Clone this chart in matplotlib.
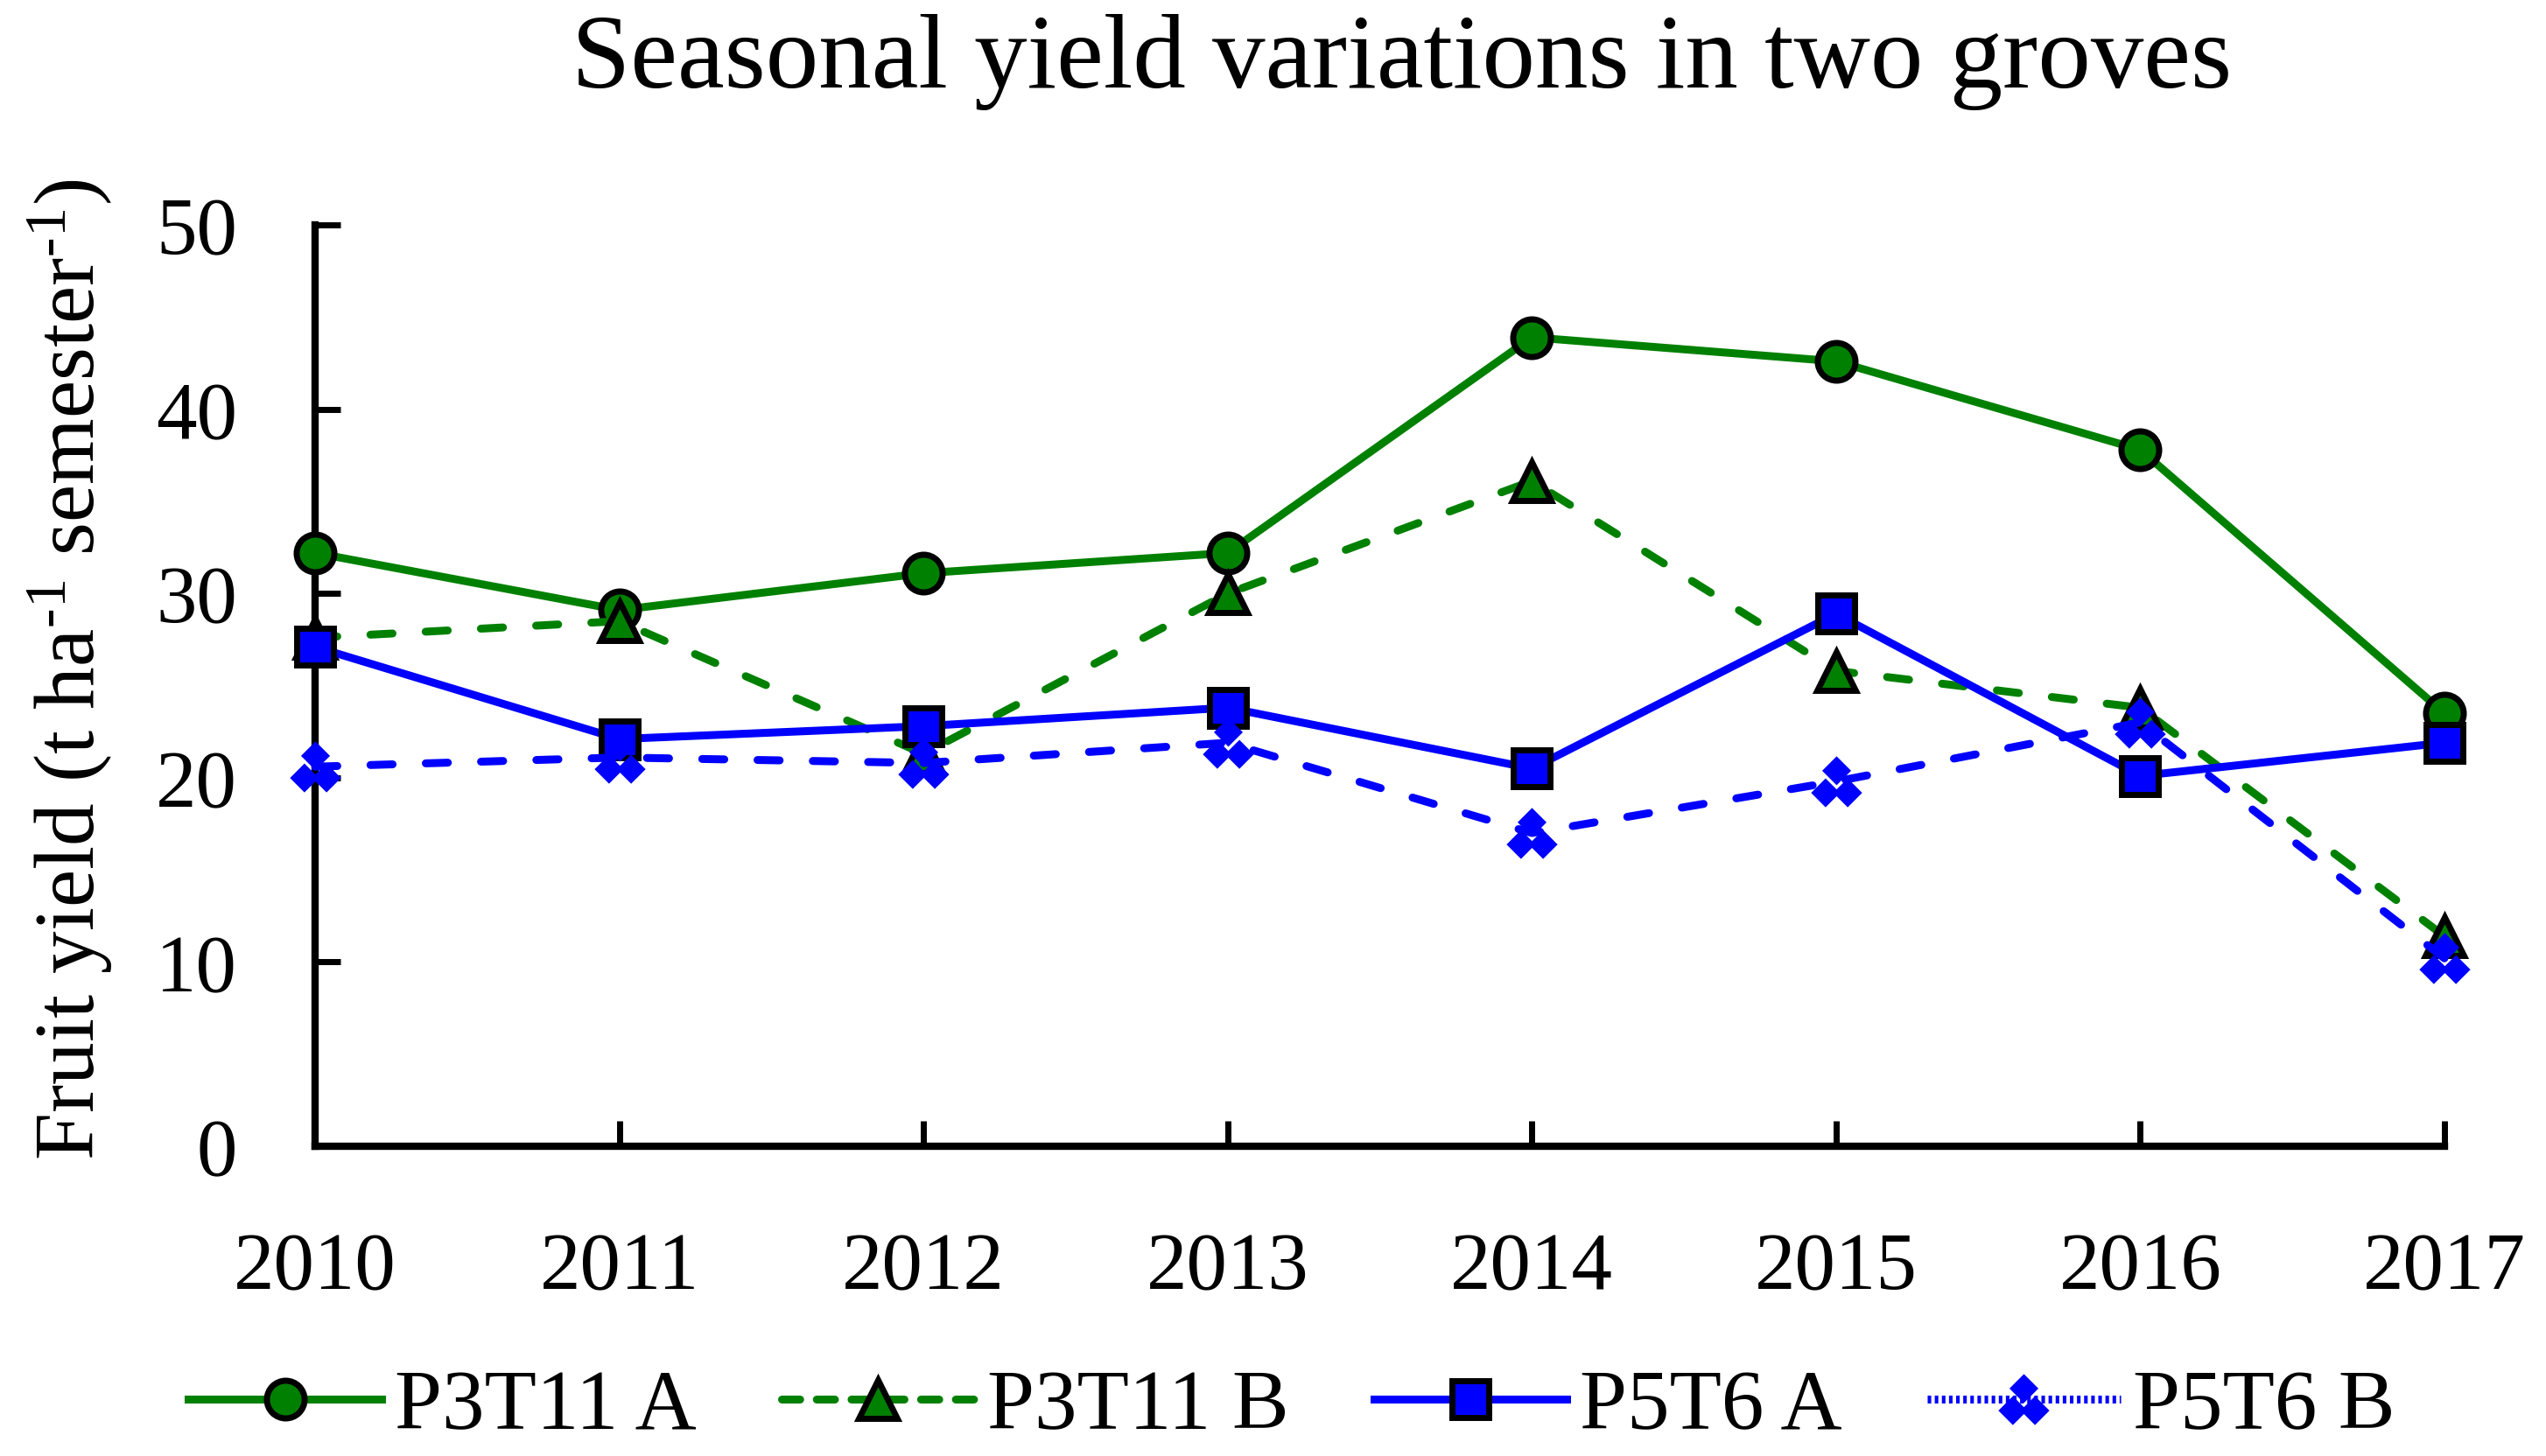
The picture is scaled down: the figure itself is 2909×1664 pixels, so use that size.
import matplotlib
matplotlib.use("Agg")
import matplotlib.pyplot as plt
from matplotlib.lines import Line2D
from matplotlib.path import Path

years = [2010, 2011, 2012, 2013, 2014, 2015, 2016, 2017]
p3t11_a = [32.2, 29.1, 31.1, 32.2, 43.9, 42.6, 37.8, 23.5]
p3t11_b = [27.6, 28.5, 21.3, 30.0, 36.1, 25.8, 23.8, 11.4]
p5t6_a = [27.1, 22.1, 22.8, 23.8, 20.5, 28.9, 20.1, 21.9]
p5t6_b = [20.6, 21.1, 20.8, 21.9, 17.0, 19.8, 23.0, 10.2]
series_names = ["P3T11 A", "P3T11 B", "P5T6 A", "P5T6 B"]
yticks = [0, 10, 20, 30, 40, 50]

FONT = "Liberation Serif"
plt.rcParams["font.family"] = [FONT, "DejaVu Serif"]
plt.rcParams["mathtext.fontset"] = "custom"
plt.rcParams["mathtext.rm"] = FONT
plt.rcParams["mathtext.it"] = FONT + ":italic"

GREEN = "#008000"
BLUE = "#0000FF"

# custom marker: cluster of three diamonds
def diamond(cx, cy, h):
    return [(cx, cy + h), (cx + h, cy), (cx, cy - h), (cx - h, cy), (cx, cy + h)]
verts, codes = [], []
for cx, cy in [(0, 0.42), (-0.42, -0.42), (0.42, -0.42)]:
    verts += diamond(cx, cy, 0.55)
    codes += [Path.MOVETO, Path.LINETO, Path.LINETO, Path.LINETO, Path.CLOSEPOLY]
tri_diamonds = Path(verts, codes)

fig = plt.figure(figsize=(29.09, 16.65), dpi=100)
ax = fig.add_axes([0.1238, 0.2126, 0.9601 - 0.1238, 0.845 - 0.2126])

lw = 6.5
mew = 5.0
dash = (0, (2.8, 4.2))
styles = [
    dict(color=GREEN, lw=lw, marker="o", ms=31, mfc=GREEN, mec="black", mew=mew),
    dict(color=GREEN, lw=lw, marker="^", ms=31, mfc=GREEN, mec="black", mew=mew),
    dict(color=BLUE, lw=lw, marker="s", ms=30, mfc=BLUE, mec="black", mew=mew),
    dict(color=BLUE, lw=lw, marker=tri_diamonds, ms=42, mfc=BLUE, mec=BLUE, mew=0),
]
ax.plot(years, p3t11_a, clip_on=False, zorder=3, **styles[0])
ax.plot(years, p3t11_b, ls=dash, dash_capstyle="round", clip_on=False, zorder=4, **styles[1])
ax.plot(years, p5t6_a, clip_on=False, zorder=5, **styles[2])
ax.plot(years, p5t6_b, ls=dash, dash_capstyle="round", clip_on=False, zorder=6, **styles[3])

ax.set_xlim(years[0], years[-1])
ax.set_ylim(0, 50)
ax.set_xticks(years)
ax.set_yticks(yticks)
ax.tick_params(axis="both", direction="in", length=21, width=5, labelsize=67)
ax.tick_params(axis="y", pad=64)
ax.tick_params(axis="x", pad=70)
for s in ["top", "right"]:
    ax.spines[s].set_visible(False)
for s in ["left", "bottom"]:
    ax.spines[s].set_linewidth(6)
    ax.spines[s].set_capstyle("projecting")

fig.text(0.027, 0.5405, "Fruit yield (t ha$^{\u20101}$ semester$^{\u20101}$)",
         fontsize=70, rotation=90, ha="center", va="center")
fig.text(0.5507, 0.94, "Seasonal yield variations in two groves", fontsize=87,
         ha="center", va="baseline")

handles = [
    Line2D([], [], **styles[0]),
    Line2D([], [], ls=(0, (2.3, 2.1)), dash_capstyle="round", **styles[1]),
    Line2D([], [], **styles[2]),
    Line2D([], [], ls=(0, (0.45, 0.45)), dash_capstyle="butt", **styles[3]),
]
fig.legend(handles, series_names, loc="center", bbox_to_anchor=(0.5074, 0.033), ncol=4,
           frameon=False, fontsize=70, handlelength=2.27, columnspacing=1.0,
           handletextpad=0.15, borderpad=0, borderaxespad=0)

fig.savefig("out.png", dpi=100)
